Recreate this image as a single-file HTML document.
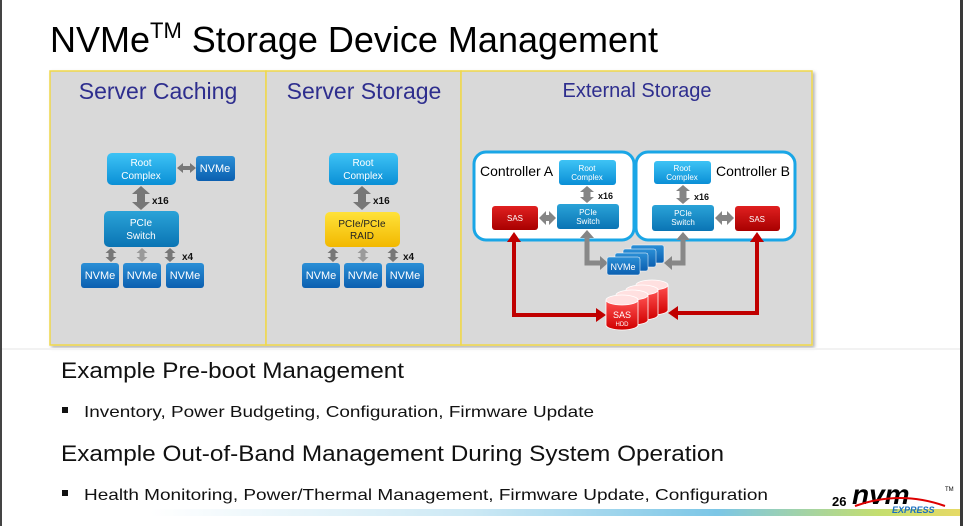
<!DOCTYPE html>
<html><head><meta charset="utf-8"><style>
html,body{margin:0;padding:0;background:#fff}
svg{display:block}
text{font-family:"Liberation Sans",sans-serif}
</style></head><body>
<svg width="963" height="526" viewBox="0 0 963 526" xmlns="http://www.w3.org/2000/svg">
<defs>
<linearGradient id="lb" x1="0" y1="0" x2="0" y2="1"><stop offset="0" stop-color="#3ec3f5"/><stop offset="1" stop-color="#0a8fd6"/></linearGradient>
<linearGradient id="db" x1="0" y1="0" x2="0" y2="1"><stop offset="0" stop-color="#2b8fd6"/><stop offset="1" stop-color="#0b5fb0"/></linearGradient>
<linearGradient id="sw" x1="0" y1="0" x2="0" y2="1"><stop offset="0" stop-color="#2aa3d8"/><stop offset="1" stop-color="#0a74b4"/></linearGradient>
<linearGradient id="yl" x1="0" y1="0" x2="0" y2="1"><stop offset="0" stop-color="#ffe23a"/><stop offset="1" stop-color="#f2b800"/></linearGradient>
<linearGradient id="rd" x1="0" y1="0" x2="0" y2="1"><stop offset="0" stop-color="#e02020"/><stop offset="1" stop-color="#a80000"/></linearGradient>
<linearGradient id="cy" x1="0" y1="0" x2="0" y2="1"><stop offset="0" stop-color="#ff5050"/><stop offset="1" stop-color="#d00000"/></linearGradient>
<linearGradient id="st" x1="0" y1="0" x2="1" y2="0"><stop offset="0" stop-color="#fff"/><stop offset="0.4" stop-color="#bfe3f2"/><stop offset="0.7" stop-color="#5bb8e0"/><stop offset="0.9" stop-color="#b6d64a"/><stop offset="1" stop-color="#e0d040"/></linearGradient>
<filter id="sh" x="-5%" y="-5%" width="110%" height="110%"><feDropShadow dx="2" dy="2" stdDeviation="1.5" flood-opacity="0.3"/></filter>
</defs>
<rect x="0" y="0" width="2" height="526" fill="#444"/>
<rect x="960" y="0" width="3" height="526" fill="#3a3a3a"/>
<text x="50" y="52" font-size="36" fill="#000">NVMe<tspan font-size="22" dy="-14">TM</tspan><tspan dy="14"> Storage Device Management</tspan></text>

<g stroke="#f0d84a" stroke-width="1.5" fill="#d9d9d9" filter="url(#sh)">
<rect x="50" y="71" width="216" height="274"/>
<rect x="266" y="71" width="195" height="274"/>
<rect x="461" y="71" width="351" height="274"/>
</g>
<g fill="#2e2e8e" font-size="23">
<text x="158" y="99" text-anchor="middle">Server Caching</text>
<text x="364" y="99" text-anchor="middle">Server Storage</text>
<text x="637" y="97" text-anchor="middle" font-size="20">External Storage</text>
</g>

<g fill="#777">
<polygon points="183,166 183,163 177,168 183,173 183,170 190,170 190,173 196,168 190,163 190,166"/>
<polygon points="137,194 132,194 141,186 150,194 145,194 145,202 150,202 141,210 132,202 137,202"/>
<polygon points="358,194 353,194 362,186 371,194 366,194 366,202 371,202 362,210 353,202 358,202"/>
<polygon transform="translate(111,0)" points="-2.5,253 -5.5,253 0,248 5.5,253 2.5,253 2.5,257 5.5,257 0,262 -5.5,257 -2.5,257"/>
<polygon transform="translate(142,0)" fill="#9a9a9a" points="-2.5,253 -5.5,253 0,248 5.5,253 2.5,253 2.5,257 5.5,257 0,262 -5.5,257 -2.5,257"/>
<polygon transform="translate(170,0)" points="-2.5,253 -5.5,253 0,248 5.5,253 2.5,253 2.5,257 5.5,257 0,262 -5.5,257 -2.5,257"/>
<polygon transform="translate(333,0)" points="-2.5,253 -5.5,253 0,248 5.5,253 2.5,253 2.5,257 5.5,257 0,262 -5.5,257 -2.5,257"/>
<polygon transform="translate(363,0)" fill="#9a9a9a" points="-2.5,253 -5.5,253 0,248 5.5,253 2.5,253 2.5,257 5.5,257 0,262 -5.5,257 -2.5,257"/>
<polygon transform="translate(393,0)" points="-2.5,253 -5.5,253 0,248 5.5,253 2.5,253 2.5,257 5.5,257 0,262 -5.5,257 -2.5,257"/>
</g>
<rect x="107" y="153" width="69" height="32" rx="5" fill="url(#lb)"/>
<rect x="196" y="156" width="39" height="25" rx="3" fill="url(#db)"/>
<rect x="104" y="211" width="75" height="36" rx="5" fill="url(#sw)"/>
<rect x="81" y="263" width="38" height="25" rx="3" fill="url(#db)"/>
<rect x="123" y="263" width="38" height="25" rx="3" fill="url(#db)"/>
<rect x="166" y="263" width="38" height="25" rx="3" fill="url(#db)"/>
<rect x="329" y="153" width="69" height="32" rx="5" fill="url(#lb)"/>
<rect x="325" y="212" width="75" height="35" rx="5" fill="url(#yl)"/>
<rect x="302" y="263" width="38" height="25" rx="3" fill="url(#db)"/>
<rect x="344" y="263" width="38" height="25" rx="3" fill="url(#db)"/>
<rect x="386" y="263" width="38" height="25" rx="3" fill="url(#db)"/>
<g font-size="10" fill="#fff" text-anchor="middle">
<text x="141" y="166">Root</text><text x="141" y="179">Complex</text>
<text x="215" y="172" font-size="11">NVMe</text>
<text x="141" y="226">PCIe</text><text x="141" y="239">Switch</text>
<text x="100" y="279" font-size="11">NVMe</text><text x="142" y="279" font-size="11">NVMe</text><text x="185" y="279" font-size="11">NVMe</text>
<text x="363" y="166">Root</text><text x="363" y="179">Complex</text>
<text x="362" y="227" fill="#222">PCIe/PCIe</text><text x="362" y="239" fill="#222">RAID</text>
<text x="321" y="279" font-size="11">NVMe</text><text x="363" y="279" font-size="11">NVMe</text><text x="405" y="279" font-size="11">NVMe</text>
</g>
<g font-size="10" font-weight="bold" fill="#111">
<text x="152" y="204">x16</text><text x="182" y="260">x4</text>
<text x="373" y="204">x16</text><text x="403" y="260">x4</text>
</g>

<rect x="474" y="152" width="160" height="88" rx="12" fill="#fff" stroke="#1aa6e6" stroke-width="3"/>
<rect x="636" y="152" width="159" height="88" rx="12" fill="#fff" stroke="#1aa6e6" stroke-width="3"/>
<text x="480" y="176" font-size="14" fill="#000">Controller A</text>
<text x="716" y="176" font-size="14" fill="#000">Controller B</text>
<g fill="#858585">
<polygon points="583.5,192 580,192 587,186 594,192 590.5,192 590.5,197 594,197 587,203 580,197 583.5,197"/>
<polygon points="679.5,191 676,191 683,185 690,191 686.5,191 686.5,198 690,198 683,204 676,198 679.5,198"/>
<polygon points="546,215 546,211 539,218 546,225 546,221 549,221 549,225 556,218 549,211 549,215"/>
<polygon points="722,215 722,211 715,218 722,225 722,221 727,221 727,225 734,218 727,211 727,215"/>
<polygon points="580,238 587,230 594,238"/>
<polygon points="600,256 608,263 600,270"/>
<polygon points="676,240 683,232 690,240"/>
<polygon points="672,256 664,263 672,270"/>
</g>
<g stroke="#888" stroke-width="5" fill="none">
<polyline points="587,237 587,263 601,263"/>
<polyline points="683,239 683,263 671,263"/>
</g>
<g stroke="#c00000" stroke-width="4" fill="none">
<polyline points="514,241 514,315 597,315"/>
<polyline points="757,241 757,313 677,313"/>
</g>
<g fill="#c00000">
<polygon points="507,242 514,232 521,242"/>
<polygon points="596,308 606,315 596,322"/>
<polygon points="750,242 757,232 764,242"/>
<polygon points="678,306 668,313 678,320"/>
</g>
<rect x="559" y="160" width="57" height="25" rx="3" fill="url(#lb)"/>
<rect x="654" y="161" width="57" height="23" rx="3" fill="url(#lb)"/>
<rect x="557" y="204" width="62" height="25" rx="3" fill="url(#sw)"/>
<rect x="652" y="205" width="62" height="26" rx="3" fill="url(#sw)"/>
<rect x="492" y="206" width="46" height="24" rx="3" fill="url(#rd)"/>
<rect x="735" y="206" width="45" height="25" rx="3" fill="url(#rd)"/>
<g font-size="8" fill="#fff" text-anchor="middle">
<text x="587" y="171">Root</text><text x="587" y="180">Complex</text>
<text x="682" y="171">Root</text><text x="682" y="180">Complex</text>
<text x="588" y="215">PCIe</text><text x="588" y="224">Switch</text>
<text x="683" y="216">PCIe</text><text x="683" y="225">Switch</text>
<text x="515" y="221">SAS</text><text x="757" y="222">SAS</text>
</g>
<g font-size="9" font-weight="bold" fill="#111"><text x="598" y="199">x16</text><text x="694" y="200">x16</text></g>
<g stroke="#fff" stroke-width="0.5" fill="url(#db)">
<rect x="631" y="245" width="33" height="18" rx="2"/>
<rect x="623" y="249" width="33" height="18" rx="2"/>
<rect x="615" y="253" width="33" height="18" rx="2"/>
<rect x="607" y="257" width="33" height="18" rx="2"/>
</g>
<text x="623" y="270" font-size="9" fill="#fff" text-anchor="middle">NVMe</text>
<g stroke="#fff" stroke-width="0.8">
<g transform="translate(30,-15)"><path d="M606,300 v25 a16,5 0 0 0 32,0 v-25" fill="url(#cy)"/><ellipse cx="622" cy="300" rx="16" ry="5" fill="#ffe0e0"/></g>
<g transform="translate(20,-10)"><path d="M606,300 v25 a16,5 0 0 0 32,0 v-25" fill="url(#cy)"/><ellipse cx="622" cy="300" rx="16" ry="5" fill="#ffe0e0"/></g>
<g transform="translate(10,-5)"><path d="M606,300 v25 a16,5 0 0 0 32,0 v-25" fill="url(#cy)"/><ellipse cx="622" cy="300" rx="16" ry="5" fill="#ffe0e0"/></g>
<path d="M606,300 v25 a16,5 0 0 0 32,0 v-25" fill="url(#cy)"/><ellipse cx="622" cy="300" rx="16" ry="5" fill="#ffe0e0"/>
</g>
<text x="622" y="318" font-size="9" fill="#fff" text-anchor="middle">SAS</text>
<text x="622" y="326" font-size="6" fill="#fff" text-anchor="middle">HDD</text>

<line x1="2" y1="349" x2="960" y2="349" stroke="#f2f2f2" stroke-width="2"/>
<text x="61" y="378" font-size="22" fill="#111" textLength="343" lengthAdjust="spacingAndGlyphs">Example Pre-boot Management</text>
<rect x="62" y="407" width="6" height="6" fill="#111"/>
<text x="84" y="417" font-size="16" fill="#111" textLength="510" lengthAdjust="spacingAndGlyphs">Inventory, Power Budgeting, Configuration, Firmware Update</text>
<text x="61" y="461" font-size="22" fill="#111" textLength="663" lengthAdjust="spacingAndGlyphs">Example Out-of-Band Management During System Operation</text>
<rect x="62" y="490" width="6" height="6" fill="#111"/>
<text x="84" y="500" font-size="16" fill="#111" textLength="684" lengthAdjust="spacingAndGlyphs">Health Monitoring, Power/Thermal Management, Firmware Update, Configuration</text>
<rect x="150" y="509" width="810" height="7" fill="url(#st)" opacity="0.8"/>
<text x="832" y="506" font-size="13" font-weight="bold" fill="#000">26</text>
<text x="852" y="504" font-size="28" font-weight="bold" font-style="italic" fill="#000">nvm</text>
<path d="M855,506 Q900,490 945,506" stroke="#d00" stroke-width="2" fill="none"/>
<text x="892" y="513" font-size="9" font-weight="bold" font-style="italic" fill="#1a6fc0">EXPRESS</text>
<text x="945" y="491" font-size="6" fill="#000">TM</text>
</svg>
</body></html>
